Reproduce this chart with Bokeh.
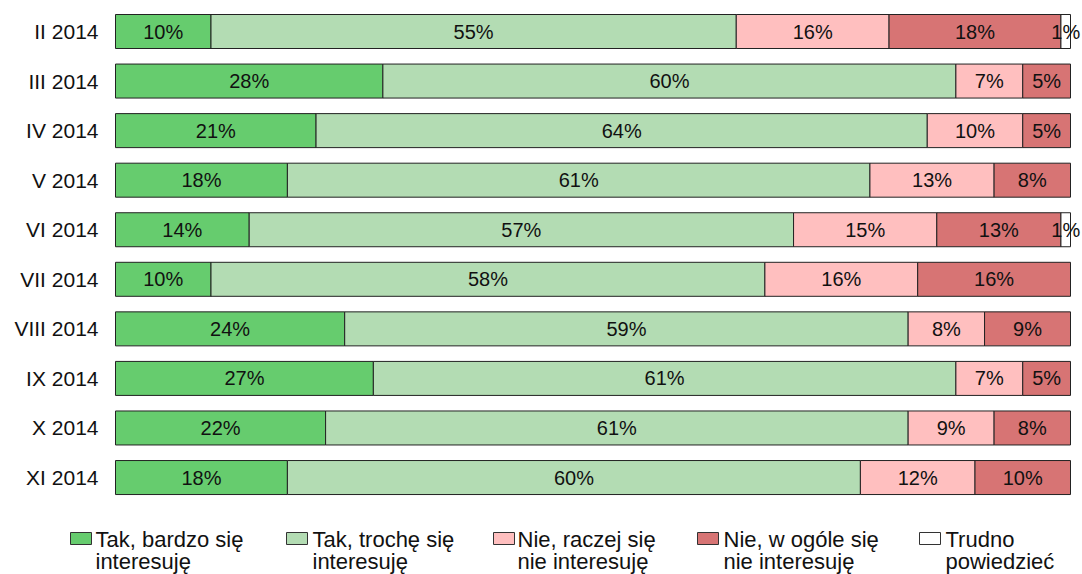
from bokeh.plotting import figure
from bokeh.models import Range1d, ColumnDataSource
from bokeh.core.properties import value
from bokeh.embed import file_html
from bokeh.resources import INLINE

categories = ["II 2014", "III 2014", "IV 2014", "V 2014", "VI 2014",
              "VII 2014", "VIII 2014", "IX 2014", "X 2014", "XI 2014"]
series_names = ["Tak, bardzo się\ninteresuję", "Tak, trochę się\ninteresuję",
                "Nie, raczej się\nnie interesuję", "Nie, w ogóle się\nnie interesuję",
                "Trudno\npowiedzieć"]
bardzo = [10, 28, 21, 18, 14, 10, 24, 27, 22, 18]
troche = [55, 60, 64, 61, 57, 58, 59, 61, 61, 60]
raczej_nie = [16, 7, 10, 13, 15, 16, 8, 7, 9, 12]
wogole_nie = [18, 5, 5, 8, 13, 16, 9, 5, 8, 10]
trudno = [1, 0, 0, 0, 1, 0, 0, 0, 0, 0]
series = [bardzo, troche, raczej_nie, wogole_nie, trudno]
colors = ["#66CC6E", "#B3DCB3", "#FFBFBF", "#D77474", "#FFFFFF"]

FONT = "Liberation Sans"
W, H = 1082, 574
LEFT_PX, RIGHT_PX = 115, 12
PX_X = (W - LEFT_PX - RIGHT_PX) / 100.0
ROW_PX = 49.56
TOP_OFF = 31 / ROW_PX

x0 = -LEFT_PX / PX_X
x1 = 100 + RIGHT_PX / PX_X
y1 = TOP_OFF
y0 = TOP_OFF - H / ROW_PX


def px_x(px):  # pixel from left -> data x
    return x0 + px / PX_X


def px_y(py):  # pixel from top -> data y
    return y1 - py / ROW_PX


p = figure(width=W, height=H, output_backend="svg", toolbar_location=None,
           x_range=Range1d(x0, x1), y_range=Range1d(y0, y1),
           min_border=0, min_border_left=0, min_border_right=0,
           min_border_top=0, min_border_bottom=0)
p.axis.visible = False
p.xgrid.visible = False
p.ygrid.visible = False
p.outline_line_color = None
p.background_fill_color = "white"

ypos = [-i for i in range(len(categories))]
BAR_H = 34 / ROW_PX

left = [0.0] * len(categories)
for vals, col in zip(series, colors):
    right = [l + v for l, v in zip(left, vals)]
    ys = [y for y, v in zip(ypos, vals) if v > 0]
    ls = [l for l, v in zip(left, vals) if v > 0]
    rs = [r for r, v in zip(right, vals) if v > 0]
    vs = [v for v in vals if v > 0]
    src = ColumnDataSource(dict(y=ys, left=ls, right=rs,
                                mid=[(a + b) / 2 for a, b in zip(ls, rs)],
                                lab=[f"{v}%" for v in vs]))
    p.hbar(y="y", left="left", right="right", height=BAR_H, source=src,
           fill_color=col, line_color="#222222", line_width=1)
    p.text(x="mid", y="y", text="lab", source=src, text_align="center",
           text_baseline="middle", text_font=value(FONT),
           text_font_size="20px", text_color="#111111")
    left = right

# category labels
p.text(x=[px_x(98)] * len(categories), y=ypos, text=categories,
       text_align="right", text_baseline="middle", text_font=value(FONT),
       text_font_size="21px", text_color="#111111")

# legend
sq_left = [70, 286, 493, 697, 919]
txt_left = [95, 312, 517, 723, 945]
for sx, tx, name, col in zip(sq_left, txt_left, series_names, colors):
    l1, l2 = name.split("\n")
    p.rect(x=[px_x(sx + 10.5)], y=[px_y(538)], width=21, height=12,
           width_units="screen", height_units="screen",
           fill_color=col, line_color="#333333", line_width=1)
    p.text(x=[px_x(tx)], y=[px_y(539)], text=[l1], text_align="left",
           text_baseline="middle", text_font=value(FONT),
           text_font_size="22px", text_color="#111111")
    p.text(x=[px_x(tx)], y=[px_y(561)], text=[l2], text_align="left",
           text_baseline="middle", text_font=value(FONT),
           text_font_size="22px", text_color="#111111")

open("out.html", "w").write(file_html(p, INLINE))
